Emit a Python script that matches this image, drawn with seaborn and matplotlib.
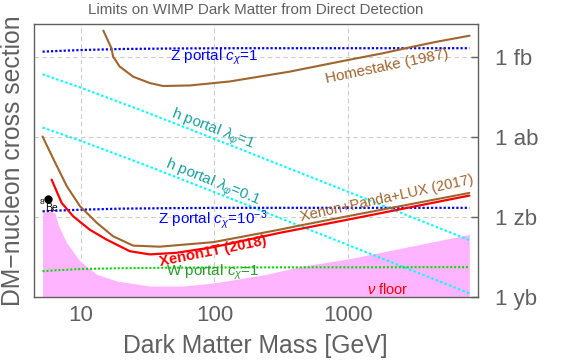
import numpy as np
import pandas as pd
import matplotlib
matplotlib.use("Agg")
import matplotlib.pyplot as plt
import seaborn as sns
from matplotlib.ticker import FixedLocator, FixedFormatter, NullLocator

# ---------------- data (mass in GeV, cross section as log10(sigma / cm^2)) ----------------
homestake_mass = [14.8, 17.0, 17.5, 19.6, 24.7, 32.9, 41.3, 65.5, 130, 365, 1000, 1811, 2864, 4539, 8035]
homestake_logsig = [-38.00, -38.66, -38.98, -39.35, -39.73, -39.97, -40.08, -40.06, -39.91,
                    -39.54, -39.10, -38.85, -38.63, -38.42, -38.19]

xpl_mass = [5.2, 6.3, 7.9, 9.9, 13.2, 17.5, 24.7, 39, 98, 307, 409, 1000, 8000]
xpl_logsig = [-41.98, -42.85, -43.85, -44.60, -45.22, -45.73, -46.08, -46.12, -45.95,
              -45.48, -45.35, -44.97, -44.10]

xenon1t_mass = [6.08, 7.21, 8.81, 11.7, 15.6, 23.3, 32.9, 52.0, 97.7, 307, 1000, 8000]
xenon1t_logsig = [-43.60, -44.47, -44.98, -45.48, -45.85, -46.29, -46.41, -46.35, -46.14,
                  -45.60, -45.10, -44.20]

nufloor_mass = [5.2, 6.0, 6.43, 6.81, 7.87, 9.89, 13.2, 18.6, 32.9, 58.3, 103.5, 244, 434, 1023, 8000]
nufloor_logsig = [-44.82, -44.79, -44.85, -45.30, -45.97, -46.66, -47.16, -47.41, -47.60,
                  -47.60, -47.47, -47.16, -46.87, -46.57, -45.66]

portal_mass = [5.2, 7, 10, 20, 50, 130, 8000]
z1_logsig = [-38.79, -38.76, -38.73, -38.69, -38.67, -38.66, -38.66]
z3_logsig = [-44.79, -44.76, -44.73, -44.69, -44.67, -44.66, -44.66]
w1_logsig = [-47.04, -47.00, -46.96, -46.93, -46.91, -46.90, -46.89]

h_mass = [5.2, 10, 30, 100, 300, 1000, 8000]
h1_logsig = [-39.64, -40.14, -41.04, -42.07, -43.02, -44.06, -45.87]
h01_logsig = [-41.64, -42.14, -43.04, -44.07, -45.02, -46.06, -47.87]

be8_mass = [5.73]
be8_logsig = [-44.31]

xtick_vals = [10, 100, 1000]
xtick_labels = ["10", "100", "1000"]
ytick_vals = [1e-39, 1e-42, 1e-45, 1e-48]
ytick_labels = ["1 fb", "1 ab", "1 zb", "1 yb"]

# ---------------- style ----------------
sns.set_theme(style="white")
plt.rcParams["font.family"] = ["Liberation Sans", "DejaVu Sans"]
plt.rcParams["mathtext.fontset"] = "custom"
plt.rcParams["mathtext.rm"] = "Liberation Sans"
plt.rcParams["mathtext.it"] = "Liberation Sans:italic"
plt.rcParams["mathtext.bf"] = "Liberation Sans:bold"

GRAY = "#606060"
BROWN = "#A0642D"
RED = "#FF0000"
BLUE = "#0000FF"
CYAN = "#00FFFF"
TEAL = "#1AA0A0"
GREEN = "#00DD00"
DGREEN = "#2A9A2A"
PINK = "#FFB4FF"

fig = plt.figure(figsize=(5.76, 3.62), dpi=100)
ax = fig.add_axes([0.0595, 0.1804, 0.7703, 0.7533])
ax.set_xscale("log")
ax.set_yscale("log")


def sig(v):
    return 10.0 ** np.asarray(v, dtype=float)


# neutrino floor fill
ax.fill_between(nufloor_mass, 1e-48, sig(nufloor_logsig), color=PINK, lw=0, zorder=1)

dot = (0, (1.0, 0.9))
dot2 = (0, (1.2, 1.1))


def line(mass, logsig, color, lw, ls="-", z=3):
    df = pd.DataFrame({"m": mass, "s": sig(logsig)})
    sns.lineplot(data=df, x="m", y="s", ax=ax, color=color, lw=lw, linestyle=ls,
                 sort=False, estimator=None, zorder=z)


line(h_mass, h1_logsig, CYAN, 1.5, dot2)
line(h_mass, h01_logsig, CYAN, 1.5, dot2)
line(portal_mass, z1_logsig, BLUE, 1.6, dot)
line(portal_mass, z3_logsig, BLUE, 1.6, dot)
line(portal_mass, w1_logsig, GREEN, 1.5, dot)
line(homestake_mass, homestake_logsig, BROWN, 1.5)
line(xpl_mass, xpl_logsig, BROWN, 1.5)
line(xenon1t_mass, xenon1t_logsig, RED, 1.6)

ax.plot(be8_mass, sig(be8_logsig), "o", color="black", ms=5, zorder=5)

# axes limits / ticks
ax.set_xlim(4.51, 9290)
ax.set_ylim(1e-48, 10 ** -37.75)
ax.xaxis.set_major_locator(FixedLocator(xtick_vals))
ax.xaxis.set_major_formatter(FixedFormatter(xtick_labels))
ax.xaxis.set_minor_locator(NullLocator())
ax.yaxis.set_major_locator(FixedLocator(ytick_vals))
ax.yaxis.set_major_formatter(FixedFormatter(ytick_labels))
ax.yaxis.set_minor_locator(NullLocator())
ax.yaxis.tick_right()
ax.tick_params(axis="y", direction="in", length=5, width=1, color=GRAY,
               labelsize=16, labelcolor=GRAY, pad=12, left=False, right=True)
ax.tick_params(axis="x", direction="in", length=4, width=1, color=GRAY,
               labelsize=16, labelcolor=GRAY, pad=6)
ax.set_xlabel("")
ax.set_ylabel("")
ax.grid(True, which="major", color="#CCCCCC", lw=0.8, ls=(0, (4, 3)))
for s in ax.spines.values():
    s.set_color(GRAY)
    s.set_linewidth(1.0)
    s.set_visible(True)

# labels
fs = 11
ax.text(100, 10 ** -39.0, r"Z portal $c_\chi$=1", color=BLUE, fontsize=fs, ha="center", va="center")
ax.text(1932, 10 ** -39.36, "Homestake (1987)", color=BROWN, fontsize=fs, ha="center", va="center",
        rotation=11.7)
ax.text(97.5, 10 ** -41.73, r"h portal $\lambda_\varphi$=1", color=TEAL, fontsize=fs, ha="center",
        va="center", rotation=-21)
ax.text(97.5, 10 ** -43.71, r"h portal $\lambda_\varphi$=0.1", color=TEAL, fontsize=fs, ha="center",
        va="center", rotation=-22)
ax.text(97.5, 10 ** -45.10, r"Z portal $c_\chi$=$10^{-3}$", color=BLUE, fontsize=fs, ha="center",
        va="center")
ax.text(1936, 10 ** -44.31, "Xenon+Panda+LUX (2017)", color=BROWN, fontsize=10.5, ha="center",
        va="center", rotation=12.3)
ax.text(97.5, 10 ** -46.30, "Xenon1T (2018)", color=RED, fontsize=10.6, fontweight="bold",
        ha="center", va="center", rotation=11.4)
ax.text(97.5, 10 ** -47.09, r"W portal $c_\chi$=1", color=DGREEN, fontsize=fs, ha="center", va="center")
ax.text(1974, 10 ** -47.73, r"$\nu$ floor", color=RED, fontsize=10.5, ha="center", va="center")
ax.text(5.12, 10 ** -44.47, "8", color="black", fontsize=6, ha="center", va="center")
ax.text(6.05, 10 ** -44.66, "Be", color="black", fontsize=7.5, ha="center", va="center")

fig.text(256 / 576, 1 - 10 / 362, "Limits on WIMP Dark Matter from Direct Detection",
         color=GRAY, fontsize=10.9, ha="center", va="center")
fig.text(13.5 / 576, 1 - 161 / 362, "DM\u2212nucleon cross section", color=GRAY, fontsize=17.8,
         rotation=90, ha="center", va="center")
fig.text(255 / 576, 1 - 346 / 362, "Dark Matter Mass [GeV]", color=GRAY, fontsize=17.8,
         ha="center", va="center")

fig.savefig("out.png", dpi=100)
